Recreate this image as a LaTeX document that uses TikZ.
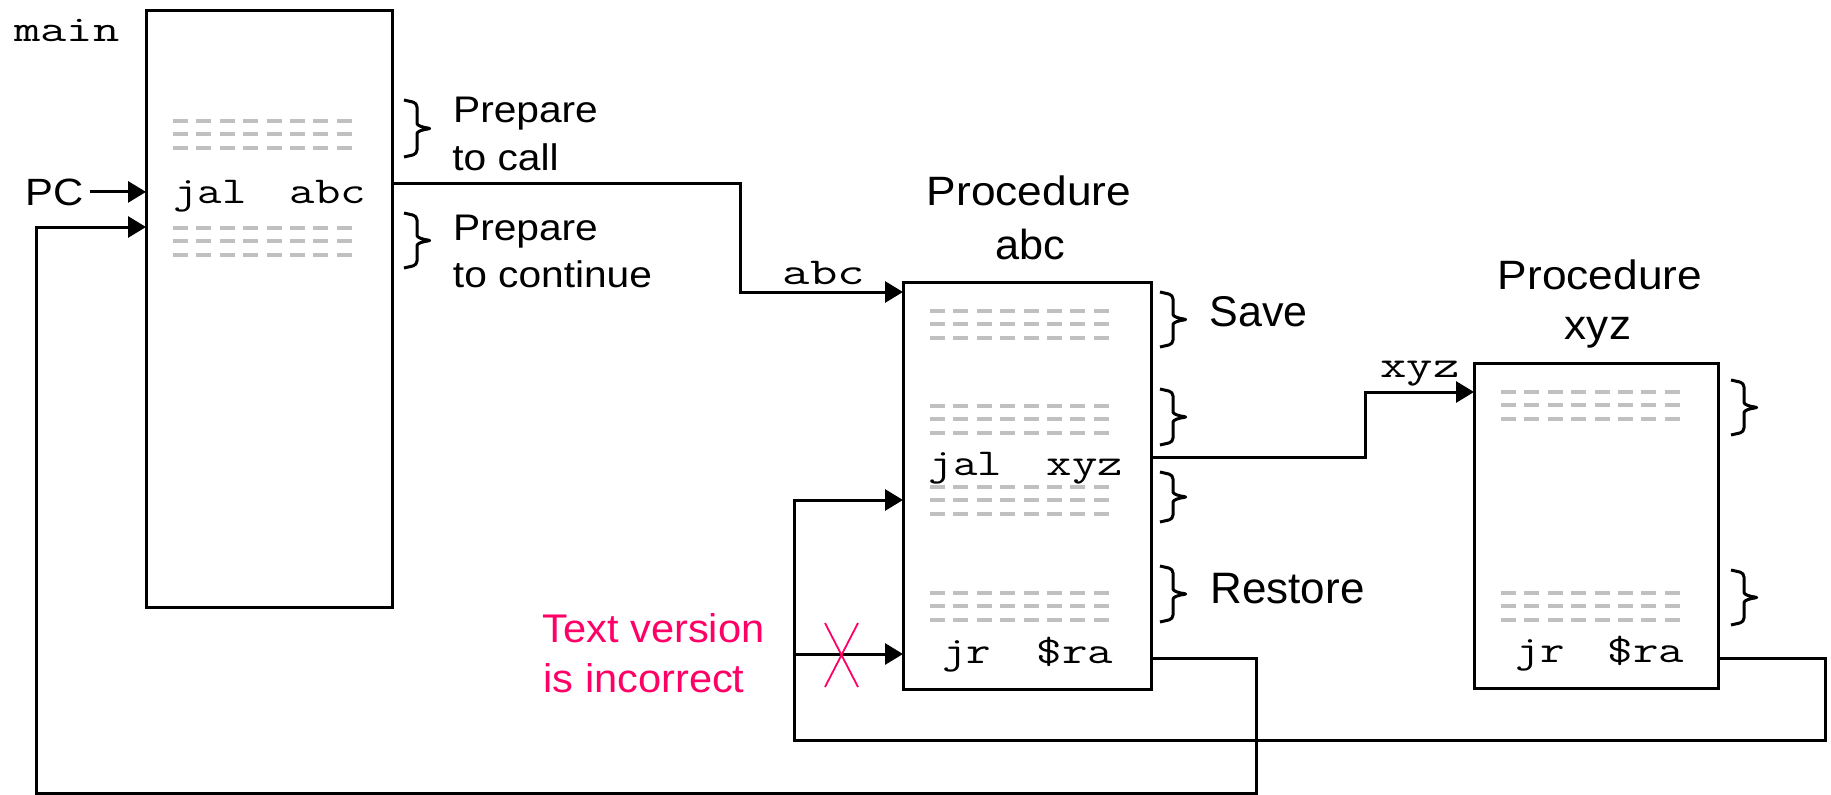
\documentclass[tikz,border=0pt]{standalone}
\usepackage{fontspec}
\setmainfont{Liberation Sans}
\usetikzlibrary{arrows.meta}
\definecolor{codegray}{HTML}{C0C0C0}
\definecolor{warnpink}{HTML}{FF0066}
% horizontal stretch of a piece of text
\newcommand\hstretch[2]{\scalebox{#1}[1]{#2}}
% three grey placeholder rows of code starting at (x,y)
\newcommand\codebars[2]{\foreach \k in {0,1,2}{\draw[codebar] (#1,{#2+13.3*\k}) -- ++(179,0);}}
% right curly brace: x of the ends, top y, bottom y
\newcommand\curlybr[3]{\draw[bracepen] (#1,#2) -- ({#1+13},{#2+3}) -- ({#1+13},{(#2+#3)/2-9}) .. controls ({#1+13},{(#2+#3)/2-3}) and ({#1+19},{(#2+#3)/2-1}) .. ({#1+28},{(#2+#3)/2}) .. controls ({#1+19},{(#2+#3)/2+1}) and ({#1+13},{(#2+#3)/2+3}) .. ({#1+13},{(#2+#3)/2+9}) -- ({#1+13},{#3-3}) -- (#1,#3);}

\begin{document}
\begin{tikzpicture}[x=1pt, y=-1pt,
  procbox/.style={draw, line width=3pt, inner sep=0pt, outer sep=0pt},
  wire/.style={line width=3pt},
  arrowed/.style={-{Triangle[length=18pt,width=21pt]}},
  codebar/.style={draw=codegray, line width=4pt, dash pattern=on 15pt off 8.4pt},
  bracepen/.style={line width=3pt, rounded corners=4pt, line join=round},
  sanslbl/.style={inner sep=0pt, anchor=base, font=\fontsize{#1}{#1}\selectfont},
  monolbl/.style={inner sep=0pt, anchor=base, font=\ttfamily\fontsize{#1}{#1}\selectfont},
  cross/.style={draw=warnpink, line width=1.8pt}]
\useasboundingbox (0,0) rectangle (1831,795);

% placeholder code rows
\codebars{173}{121}
\codebars{173}{228}
\codebars{930}{311}
\codebars{930}{406}
\codebars{930}{487}
\codebars{930}{593}
\codebars{1501}{392}
\codebars{1501}{593}

% procedure frames
\node[procbox, minimum width=246pt, minimum height=597pt] (main) at (269,308.5) {};
\node[procbox, minimum width=248pt, minimum height=407pt] (abc) at (1027,485.5) {};
\node[procbox, minimum width=244pt, minimum height=325pt] (xyz) at (1596,525.5) {};

% braces
\curlybr{404}{100}{157}
\curlybr{404}{213}{268}
\curlybr{1160}{292}{347}
\curlybr{1160}{389}{445}
\curlybr{1160}{472}{522}
\curlybr{1160}{566}{622}
\curlybr{1731}{380}{435}
\curlybr{1731}{570}{625}

% labels
\node[monolbl=37] (mainlbl) at (67,41) {\hstretch{1.38}{main}};
\node[sanslbl=38] (pc) at (55,205) {\hstretch{1.1}{PC}};
\node[monolbl=38] (mjal) at (210,203) {\hstretch{1.25}{jal}};
\node[monolbl=38] (mabc) at (328,203) {\hstretch{1.3}{abc}};
\node[sanslbl=37] (prep1) at (525.5,122) {\hstretch{1.1}{Prepare}};
\node[sanslbl=37] (call) at (505.5,170) {\hstretch{1.1}{to call}};
\node[sanslbl=37] (prep2) at (525.5,240) {\hstretch{1.1}{Prepare}};
\node[sanslbl=37] (cont) at (552.5,287) {\hstretch{1.1}{to continue}};

\node[sanslbl=41] (procA) at (1029,205) {\hstretch{1.08}{Procedure}};
\node[sanslbl=42] (nameA) at (1030,259) {\hstretch{1.03}{abc}};
\node[sanslbl=41] (procX) at (1600,289) {\hstretch{1.08}{Procedure}};
\node[sanslbl=42] (nameX) at (1598,339) {\hstretch{1.05}{xyz}};

\node[monolbl=38] (lblabc) at (824,284) {\hstretch{1.4}{abc}};
\node[monolbl=38] (lblxyz) at (1420,377) {\hstretch{1.35}{xyz}};

\node[monolbl=38] (ajal) at (965.5,475) {\hstretch{1.25}{jal}};
\node[monolbl=38] (axyz) at (1085,475) {\hstretch{1.3}{xyz}};
\node[monolbl=38] (ajr) at (966.5,663) {\hstretch{1.25}{jr}};
\node[monolbl=38] (ara) at (1075,663) {\hstretch{1.3}{\$ra}};
\node[monolbl=38] (xjr) at (1540,662) {\hstretch{1.25}{jr}};
\node[monolbl=38] (xra) at (1646,662) {\hstretch{1.3}{\$ra}};

\node[sanslbl=43] (save) at (1258.5,326) {Save};
\node[sanslbl=44] (restore) at (1287.5,603) {Restore};
\node[sanslbl=40, text=warnpink] (note1) at (653.5,642) {\hstretch{1.04}{Text version}};
\node[sanslbl=40, text=warnpink] (note2) at (644,692) {\hstretch{1.04}{is incorrect}};

% connection points
\coordinate (mainOut) at (main.east |- 0,183);
\coordinate (abcIn) at (abc.west |- 0,292);
\coordinate (abcOut) at (abc.east |- 0,457);
\coordinate (xyzIn) at (xyz.west |- 0,392);
\coordinate (xyzRet) at (xyz.east |- 0,658);
\coordinate (abcCont) at (abc.west |- 0,500);
\coordinate (abcRet) at (abc.east |- 0,658);
\coordinate (mainCont) at (main.west |- 0,227);
\coordinate (abcRetIn) at (abc.west |- 0,654);
\coordinate (retJoin) at (794,654);

% calls
\draw[wire, arrowed] ([xshift=6pt]pc.east) -- (main.west |- pc.east);
\draw[wire, arrowed] (mainOut) -| (740,292) -- (abcIn);
\draw[wire, arrowed] (abcOut) -| (1365,392) -- (xyzIn);
% returns
\draw[wire, arrowed] (xyzRet) -| (1825,740) -| (794,500) -- (abcCont);
\draw[wire, arrowed] (abcRet) -| (1256,793) -| (36,227) -- (mainCont);
\draw[wire, arrowed] (retJoin) -- (abcRetIn);
\draw[cross] (825,623) -- (858,687) (858,623) -- (825,687);
\end{tikzpicture}
\end{document}
